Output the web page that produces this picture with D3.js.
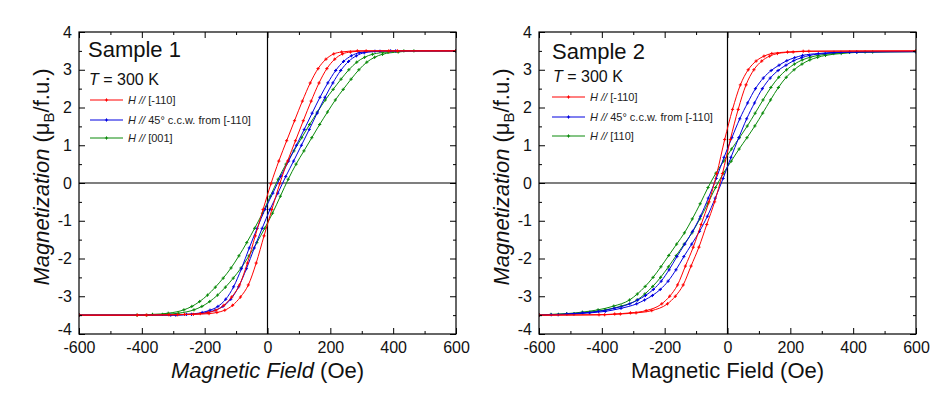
<!DOCTYPE html>
<html><head><meta charset="utf-8">
<script src="https://cdn.jsdelivr.net/npm/d3@7"></script>
<style>
body{margin:0;background:#fff;}
svg{display:block;font-family:Arial,"Liberation Sans",sans-serif;}
</style></head><body>
<svg id="chart" width="947" height="409"></svg>
<script>
const fieldTicks = [-600,-400,-200,0,200,400,600];
const fieldMinor = [-500,-300,-100,100,300,500];
const magTicks = [-4,-3,-2,-1,0,1,2,3,4];
const magMinor = [-3.5,-2.5,-1.5,-0.5,0.5,1.5,2.5,3.5];
const seriesNames = ["red","blue","green"];
const s1Labels = ["[-110]","45° c.c.w. from [-110]","[001]"];
const s2Labels = ["[-110]","45° c.c.w. from [-110]","[110]"];

// Sample 1 (field Oe, magnetization muB/f.u.)
const s1RedDown = [[-600,-3.5],[-414,-3.5],[-314,-3.49],[-264,-3.48],[-214,-3.46],[-189,-3.43],[-164,-3.37],[-139,-3.24],[-114,-3.02],[-89,-2.7],[-64,-2.12],[-39,-1.4],[-14,-0.7],[11,-0.02],[36,0.58],[61,1.12],[86,1.65],[111,2.17],[136,2.65],[161,3.03],[186,3.28],[211,3.42],[236,3.47],[286,3.5],[386,3.5],[600,3.5]];
const s1RedUp = [[-600,-3.5],[-386,-3.5],[-286,-3.49],[-236,-3.48],[-186,-3.46],[-161,-3.43],[-136,-3.37],[-111,-3.24],[-86,-3.02],[-61,-2.7],[-36,-2.12],[-11,-1.4],[14,-0.7],[39,-0.02],[64,0.58],[89,1.12],[114,1.65],[139,2.17],[164,2.65],[189,3.03],[214,3.28],[239,3.42],[264,3.47],[314,3.5],[414,3.5],[600,3.5]];
const s1BlueDown = [[-600,-3.5],[-308,-3.5],[-258,-3.48],[-208,-3.43],[-183,-3.37],[-158,-3.27],[-133,-3.08],[-108,-2.75],[-83,-2.27],[-58,-1.72],[-33,-1.2],[-8,-0.7],[17,-0.27],[42,0.17],[67,0.58],[92,1.0],[117,1.42],[142,1.85],[167,2.27],[192,2.65],[217,2.98],[242,3.22],[267,3.37],[292,3.45],[342,3.49],[392,3.5],[600,3.5]];
const s1BlueUp = [[-600,-3.5],[-292,-3.5],[-242,-3.48],[-192,-3.43],[-167,-3.37],[-142,-3.27],[-117,-3.08],[-92,-2.75],[-67,-2.27],[-42,-1.72],[-17,-1.2],[8,-0.7],[33,-0.27],[58,0.17],[83,0.58],[108,1.0],[133,1.42],[158,1.85],[183,2.27],[208,2.65],[233,2.98],[258,3.22],[283,3.37],[308,3.45],[358,3.49],[408,3.5],[600,3.5]];
const s1GreenDown = [[-600,-3.5],[-416,-3.5],[-366,-3.48],[-316,-3.45],[-266,-3.36],[-241,-3.27],[-216,-3.14],[-191,-2.97],[-166,-2.76],[-141,-2.52],[-116,-2.25],[-91,-1.93],[-66,-1.58],[-41,-1.2],[-16,-0.8],[9,-0.35],[34,0.1],[59,0.5],[84,0.85],[109,1.2],[134,1.55],[159,1.88],[184,2.2],[209,2.48],[234,2.75],[259,3.0],[284,3.2],[309,3.33],[334,3.41],[384,3.47],[434,3.5],[600,3.5]];
const s1GreenUp = [[-600,-3.5],[-384,-3.5],[-334,-3.48],[-284,-3.45],[-234,-3.36],[-209,-3.27],[-184,-3.14],[-159,-2.97],[-134,-2.76],[-109,-2.52],[-84,-2.25],[-59,-1.93],[-34,-1.58],[-9,-1.2],[16,-0.8],[41,-0.35],[66,0.1],[91,0.5],[116,0.85],[141,1.2],[166,1.55],[191,1.88],[216,2.2],[241,2.48],[266,2.75],[291,3.0],[316,3.2],[341,3.33],[366,3.41],[416,3.47],[466,3.5],[600,3.5]];

// Sample 2
const s2RedDown = [[-600,-3.5],[-409,-3.49],[-359,-3.47],[-309,-3.44],[-259,-3.38],[-209,-3.2],[-184,-3.0],[-159,-2.7],[-134,-2.2],[-109,-1.7],[-84,-1.1],[-59,-0.5],[-34,0.25],[-9,1.15],[16,1.95],[41,2.6],[66,3.0],[91,3.23],[116,3.36],[141,3.43],[191,3.47],[241,3.49],[600,3.5]];
const s2RedUp = [[-600,-3.5],[-391,-3.49],[-341,-3.47],[-291,-3.44],[-241,-3.38],[-191,-3.2],[-166,-3.0],[-141,-2.7],[-116,-2.2],[-91,-1.7],[-66,-1.1],[-41,-0.5],[-16,0.25],[9,1.15],[34,1.95],[59,2.6],[84,3.0],[109,3.23],[134,3.36],[159,3.43],[209,3.47],[259,3.49],[600,3.5]];
const s2BlueDown = [[-600,-3.5],[-561,-3.49],[-511,-3.47],[-461,-3.44],[-411,-3.4],[-361,-3.32],[-311,-3.2],[-286,-3.1],[-261,-2.98],[-236,-2.82],[-211,-2.6],[-186,-2.3],[-161,-1.95],[-136,-1.62],[-111,-1.28],[-86,-0.88],[-61,-0.4],[-36,0.12],[-11,0.68],[14,1.2],[39,1.7],[64,2.12],[89,2.5],[114,2.78],[139,2.98],[164,3.12],[189,3.24],[214,3.32],[239,3.38],[289,3.43],[339,3.46],[389,3.47],[600,3.48]];
const s2BlueUp = [[-600,-3.5],[-539,-3.49],[-489,-3.47],[-439,-3.44],[-389,-3.4],[-339,-3.32],[-289,-3.2],[-264,-3.1],[-239,-2.98],[-214,-2.82],[-189,-2.6],[-164,-2.3],[-139,-1.95],[-114,-1.62],[-89,-1.28],[-64,-0.88],[-39,-0.4],[-14,0.12],[11,0.68],[36,1.2],[61,1.7],[86,2.12],[111,2.5],[136,2.78],[161,2.98],[186,3.12],[211,3.24],[236,3.32],[261,3.38],[311,3.43],[361,3.46],[411,3.47],[600,3.48]];
const s2GreenDown = [[-600,-3.5],[-562,-3.48],[-512,-3.46],[-462,-3.42],[-412,-3.36],[-362,-3.26],[-312,-3.1],[-287,-2.94],[-262,-2.74],[-237,-2.5],[-212,-2.22],[-187,-1.92],[-162,-1.62],[-137,-1.32],[-112,-0.95],[-87,-0.55],[-62,-0.12],[-37,0.26],[-12,0.58],[13,0.9],[38,1.2],[63,1.51],[88,1.85],[113,2.2],[138,2.53],[163,2.8],[188,3.0],[213,3.15],[238,3.26],[263,3.33],[288,3.38],[338,3.43],[388,3.46],[438,3.47],[600,3.48]];
const s2GreenUp = [[-600,-3.5],[-538,-3.48],[-488,-3.46],[-438,-3.42],[-388,-3.36],[-338,-3.26],[-288,-3.1],[-263,-2.94],[-238,-2.74],[-213,-2.5],[-188,-2.22],[-163,-1.92],[-138,-1.62],[-113,-1.32],[-88,-0.95],[-63,-0.55],[-38,-0.12],[-13,0.26],[12,0.58],[37,0.9],[62,1.2],[87,1.51],[112,1.85],[137,2.2],[162,2.53],[187,2.8],[212,3.0],[237,3.15],[262,3.26],[287,3.33],[312,3.38],[362,3.43],[412,3.46],[462,3.47],[600,3.48]];

const colorMap = {red:"#ff0000", blue:"#0000e0", green:"#0a8a0a"};
const FONT = 'Arial, "Liberation Sans", sans-serif';
const svg = d3.select("#chart");

const panels = [
  {id:"p1", title:"Sample 1", left:79, labels:s1Labels, italicX:true,
   branches:[[s1RedDown,s1RedUp],[s1BlueDown,s1BlueUp],[s1GreenDown,s1GreenUp]],
   lx:90, titleX:88, titleY:57, tempY:85, rows:[100,120,138]},
  {id:"p2", title:"Sample 2", left:539, labels:s2Labels, italicX:false,
   branches:[[s2RedDown,s2RedUp],[s2BlueDown,s2BlueUp],[s2GreenDown,s2GreenUp]],
   lx:552, titleX:552, titleY:59, tempY:82, rows:[97,117,136]}
];

const plotTop = 32, plotBottom = 334, plotWidth = 377;
const plainFormat = d => String(d);

panels.forEach(p => {
  const x = d3.scaleLinear().domain([-600,600]).range([p.left, p.left+plotWidth]);
  const y = d3.scaleLinear().domain([-4,4]).range([plotBottom, plotTop]);
  const g = svg.append("g");

  g.append("clipPath").attr("id","clip-"+p.id).append("rect")
    .attr("x",p.left).attr("y",plotTop).attr("width",plotWidth).attr("height",plotBottom-plotTop);

  // zero lines
  g.append("line").attr("x1",x(0)).attr("x2",x(0)).attr("y1",plotTop).attr("y2",plotBottom).attr("stroke","#000").attr("stroke-width",1.2);
  g.append("line").attr("x1",p.left).attr("x2",p.left+plotWidth).attr("y1",y(0)).attr("y2",y(0)).attr("stroke","#000").attr("stroke-width",1.2);

  // curves
  const line = d3.line().x(d=>x(d[0])).y(d=>y(d[1])).curve(d3.curveMonotoneX);
  const cg = g.append("g").attr("clip-path","url(#clip-"+p.id+")");
  [2,1,0].forEach(i => {
    const col = colorMap[seriesNames[i]];
    p.branches[i].forEach(br => {
      cg.append("path").datum(br).attr("d",line).attr("fill","none").attr("stroke",col).attr("stroke-width",1);
      cg.selectAll(null).data(br).enter().append("path")
        .attr("transform",d=>`translate(${x(d[0])},${y(d[1])})`)
        .attr("d","M-1.6,0H1.6M0,-1.6V1.6").attr("stroke",col).attr("stroke-width",1);
    });
  });

  // axes
  const styleAxis = sel => { sel.select(".domain").remove(); sel.selectAll("line").attr("stroke","#000"); };
  const ax = [
    {a:d3.axisBottom(x).tickValues(fieldTicks).tickSizeInner(-6).tickSizeOuter(0).tickPadding(8).tickFormat(plainFormat), t:`translate(0,${plotBottom})`},
    {a:d3.axisBottom(x).tickValues(fieldMinor).tickSizeInner(-3).tickSizeOuter(0).tickFormat(""), t:`translate(0,${plotBottom})`},
    {a:d3.axisTop(x).tickValues(fieldTicks).tickSizeInner(-6).tickSizeOuter(0).tickFormat(""), t:`translate(0,${plotTop})`},
    {a:d3.axisTop(x).tickValues(fieldMinor).tickSizeInner(-3).tickSizeOuter(0).tickFormat(""), t:`translate(0,${plotTop})`},
    {a:d3.axisLeft(y).tickValues(magTicks).tickSizeInner(-6).tickSizeOuter(0).tickPadding(7).tickFormat(plainFormat), t:`translate(${p.left},0)`, yAxis:true},
    {a:d3.axisLeft(y).tickValues(magMinor).tickSizeInner(-3).tickSizeOuter(0).tickFormat(""), t:`translate(${p.left},0)`},
    {a:d3.axisRight(y).tickValues(magTicks).tickSizeInner(-6).tickSizeOuter(0).tickFormat(""), t:`translate(${p.left+plotWidth},0)`},
    {a:d3.axisRight(y).tickValues(magMinor).tickSizeInner(-3).tickSizeOuter(0).tickFormat(""), t:`translate(${p.left+plotWidth},0)`}
  ];
  ax.forEach(o => {
    const s = g.append("g").attr("transform",o.t).call(o.a);
    styleAxis(s);
    s.attr("font-family",FONT).attr("font-size",16);
    s.selectAll("text").attr("fill","#111");
    if (o.yAxis) {
      s.selectAll(".tick").filter(d => d === -4).select("text").attr("dy","0.05em");
    }
  });

  // frame
  g.append("rect").attr("x",p.left).attr("y",plotTop).attr("width",plotWidth).attr("height",plotBottom-plotTop)
    .attr("fill","none").attr("stroke","#000").attr("stroke-width",1.2);

  // x title
  const xt = g.append("text").attr("x",x(0)).attr("y",378).attr("text-anchor","middle")
    .attr("font-size",22).attr("font-family",FONT).attr("fill","#111");
  if (p.italicX) {
    xt.append("tspan").attr("font-style","italic").text("Magnetic Field");
    xt.append("tspan").text(" (Oe)");
  } else {
    xt.text("Magnetic Field (Oe)");
  }

  // y title
  const yt = g.append("text").attr("transform",`translate(${p.left-30},177) rotate(-90)`)
    .attr("text-anchor","middle").attr("font-size",22).attr("font-family",FONT).attr("fill","#111");
  yt.append("tspan").attr("font-style","italic").text("Magnetization");
  yt.append("tspan").text(" (\u03bc");
  yt.append("tspan").attr("font-size",15).attr("dy",5).text("B");
  yt.append("tspan").attr("dy",-5).text("/f.u.)");

  // sample title and temperature
  g.append("text").attr("x",p.titleX).attr("y",p.titleY).attr("font-size",22).attr("font-family",FONT).attr("fill","#111").text(p.title);
  const tt = g.append("text").attr("x",p.titleX+1).attr("y",p.tempY).attr("font-size",16).attr("font-family",FONT).attr("fill","#111");
  tt.append("tspan").attr("font-style","italic").text("T");
  tt.append("tspan").text(" = 300 K");

  // legend
  p.rows.forEach((ry, i) => {
    const col = colorMap[seriesNames[i]];
    g.append("line").attr("x1",p.lx).attr("x2",p.lx+33).attr("y1",ry).attr("y2",ry).attr("stroke",col).attr("stroke-width",1);
    g.append("path").attr("transform",`translate(${p.lx+16.5},${ry})`).attr("d","M-1.6,0H1.6M0,-1.6V1.6").attr("stroke",col).attr("stroke-width",1);
    const lt = g.append("text").attr("x",p.lx+38).attr("y",ry+4).attr("font-size",11).attr("font-family",FONT).attr("fill","#222");
    lt.append("tspan").attr("font-style","italic").text("H //");
    lt.append("tspan").text(" " + p.labels[i]);
  });
});
</script>
</body></html>
